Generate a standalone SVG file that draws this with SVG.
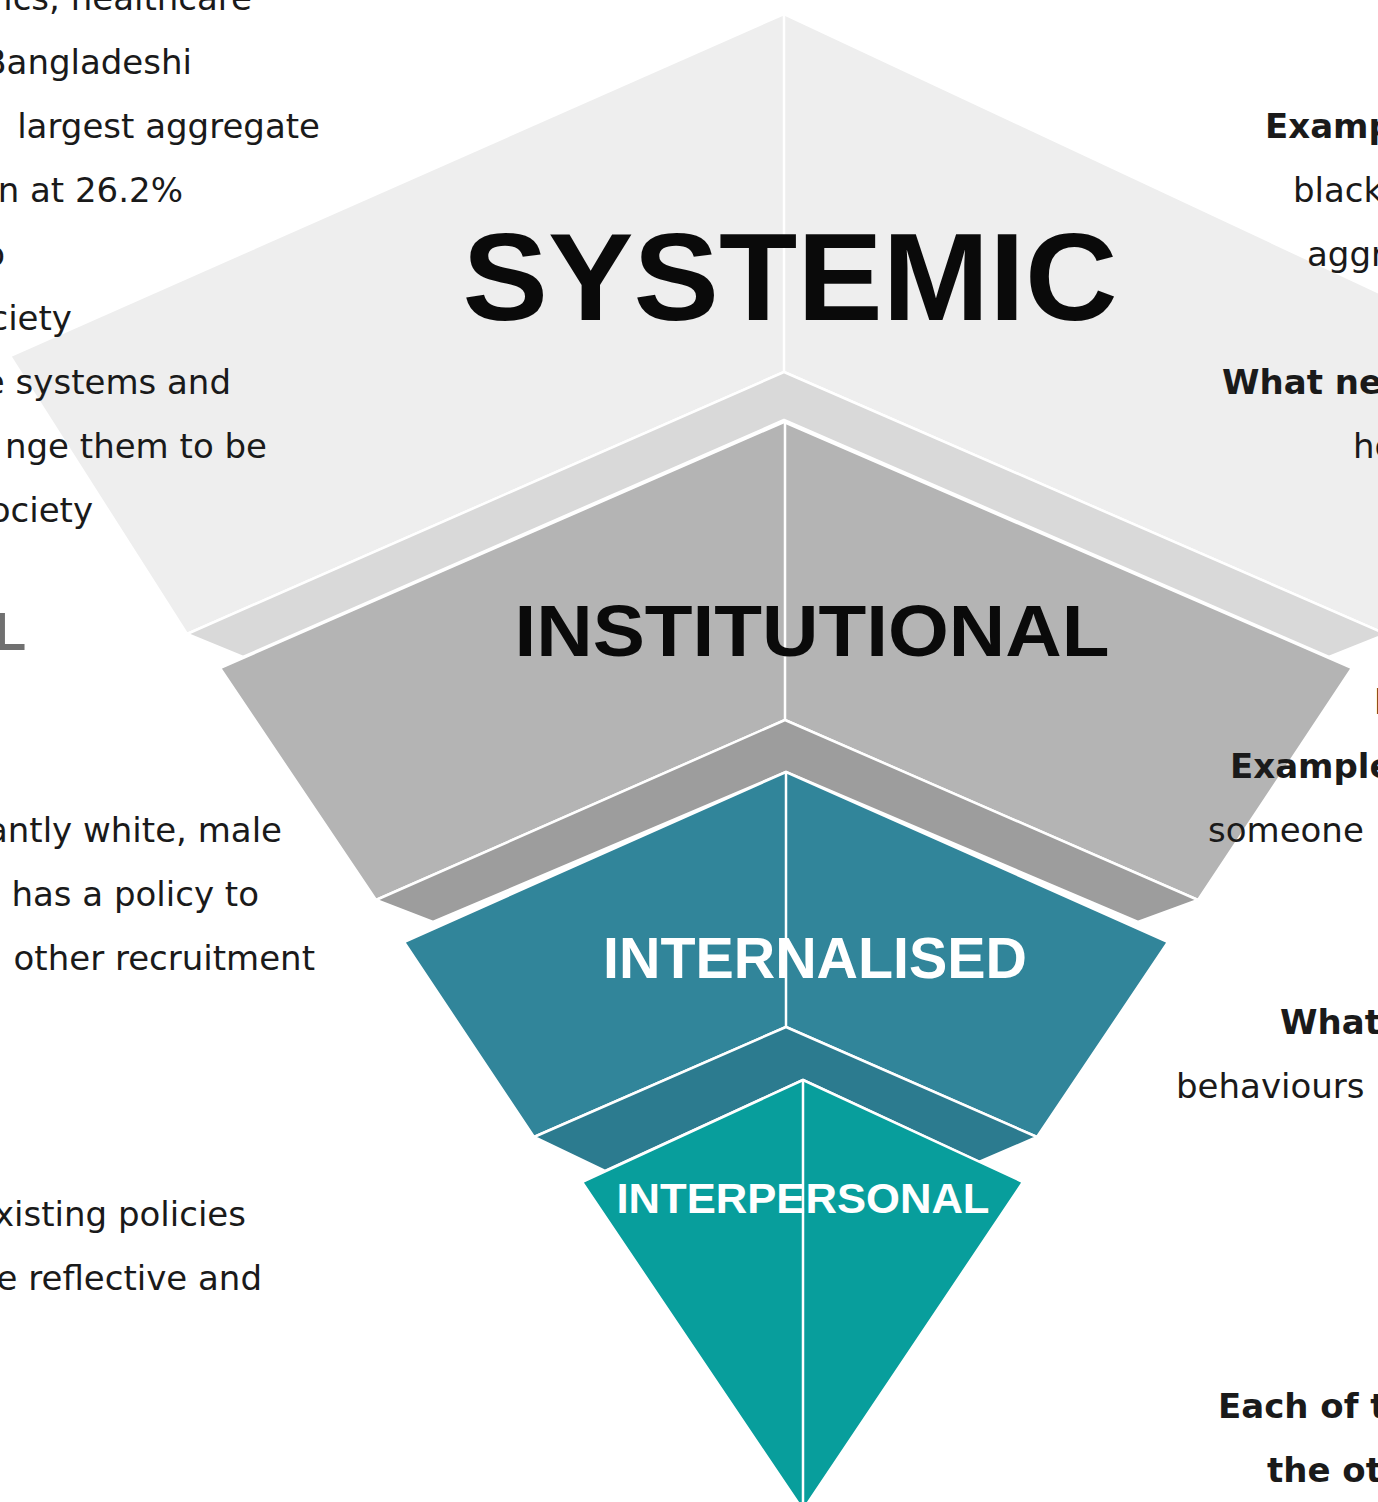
<svg xmlns="http://www.w3.org/2000/svg" width="1378" height="1502" viewBox="0 0 1378 1502">
<style>
.face{stroke:#ffffff;stroke-width:2.5;stroke-linejoin:round}
.sep{stroke:#ffffff;stroke-width:2.5;fill:none}
.body{font-family:"DejaVu Sans","Liberation Sans",sans-serif;font-size:34px;fill:#1a1a1a}
.bold{font-weight:bold}
.lbl{font-family:"Liberation Sans","DejaVu Sans",sans-serif;font-weight:bold}
.l{text-anchor:end}
</style>
<rect width="1378" height="1502" fill="#ffffff"/>
<g id="layer-systemic">
<polygon class="face" fill="#eeeeee" points="784,14 1570,382 1386,634 784,372 187,634 10,356"/>
<polygon class="face" fill="#d9d9d9" points="187,634 784,372 1386,634 1329,657 784,420 243,657"/>
<line class="sep" x1="784" y1="14" x2="784" y2="372"/>
<text class="lbl" x="790" y="320" font-size="125" text-anchor="middle" textLength="655" lengthAdjust="spacingAndGlyphs" fill="#0a0a0a">SYSTEMIC</text>
</g>
<g id="layer-institutional">
<polygon class="face" fill="#b4b4b4" points="784,422 1352,668 1198,900 785,720 376,900 220,668"/>
<polygon class="face" fill="#9d9d9d" points="376,900 785,720 1198,900 1138,922 786,772 433,922"/>
<line class="sep" x1="785" y1="422" x2="785" y2="720"/>
<text class="lbl" x="812" y="656" font-size="72" text-anchor="middle" textLength="595" lengthAdjust="spacingAndGlyphs" fill="#0a0a0a">INSTITUTIONAL</text>
</g>
<g id="layer-internalised">
<polygon class="face" fill="#31859a" points="786,772 1168,942 1037,1137 786,1027 534,1137 404,942"/>
<polygon class="face" fill="#2c7b8f" points="534,1137 786,1027 1037,1137 979,1162 803,1080 605,1171"/>
<line class="sep" x1="786" y1="772" x2="786" y2="1027"/>
<text class="lbl" x="815" y="978" font-size="57" text-anchor="middle" textLength="424" lengthAdjust="spacingAndGlyphs" fill="#ffffff">INTERNALISED</text>
</g>
<g id="layer-interpersonal">
<polygon class="face" fill="#089e9c" points="803,1080 1023,1182 803,1510 582,1182"/>
<line class="sep" x1="803" y1="1080" x2="803" y2="1502"/>
<text class="lbl" x="803" y="1213" font-size="42" text-anchor="middle" textLength="373" lengthAdjust="spacingAndGlyphs" fill="#ffffff">INTERPERSONAL</text>
</g>
<g id="connectors"></g>
<g id="notes-left">
<text class="body l" x="252" y="10">ics, healthcare</text>
<text class="body l" x="192" y="74">Bangladeshi</text>
<text class="body l" x="320" y="138">largest aggregate</text>
<text class="body l" x="183" y="202">en at 26.2%</text>
<text class="body l" x="5" y="266">o</text>
<text class="body l" x="72" y="330">ciety</text>
<text class="body l" x="231" y="394">e systems and</text>
<text class="body l" x="267" y="458">nge them to be</text>
<text class="body l" x="93" y="522">ociety</text>
<text class="lbl l" x="26" y="650" font-size="53" fill="#707070">L</text>
<text class="body l" x="282" y="842">antly white, male</text>
<text class="body l" x="259" y="906">has a policy to</text>
<text class="body l" x="315" y="970">other recruitment</text>
<text class="body l" x="246" y="1226">xisting policies</text>
<text class="body l" x="262" y="1290">e reflective and</text>
</g>
<g id="notes-right">
<text class="body bold" x="1265" y="138">Example</text>
<text class="body" x="1293" y="202">black</text>
<text class="body" x="1307" y="266">aggr</text>
<text class="body bold" x="1222" y="394">What next</text>
<text class="body" x="1353" y="458">ho</text>
<text class="body" x="1374" y="714">l</text>
<text class="body bold" x="1230" y="778">Example</text>
<text class="body" x="1208" y="842">someone</text>
<text class="body bold" x="1280" y="1034">What</text>
<text class="body" x="1176" y="1098">behaviours</text>
<text class="body bold" x="1218" y="1418">Each of t</text>
<text class="body bold" x="1267" y="1482">the oth</text>
</g>
</svg>
